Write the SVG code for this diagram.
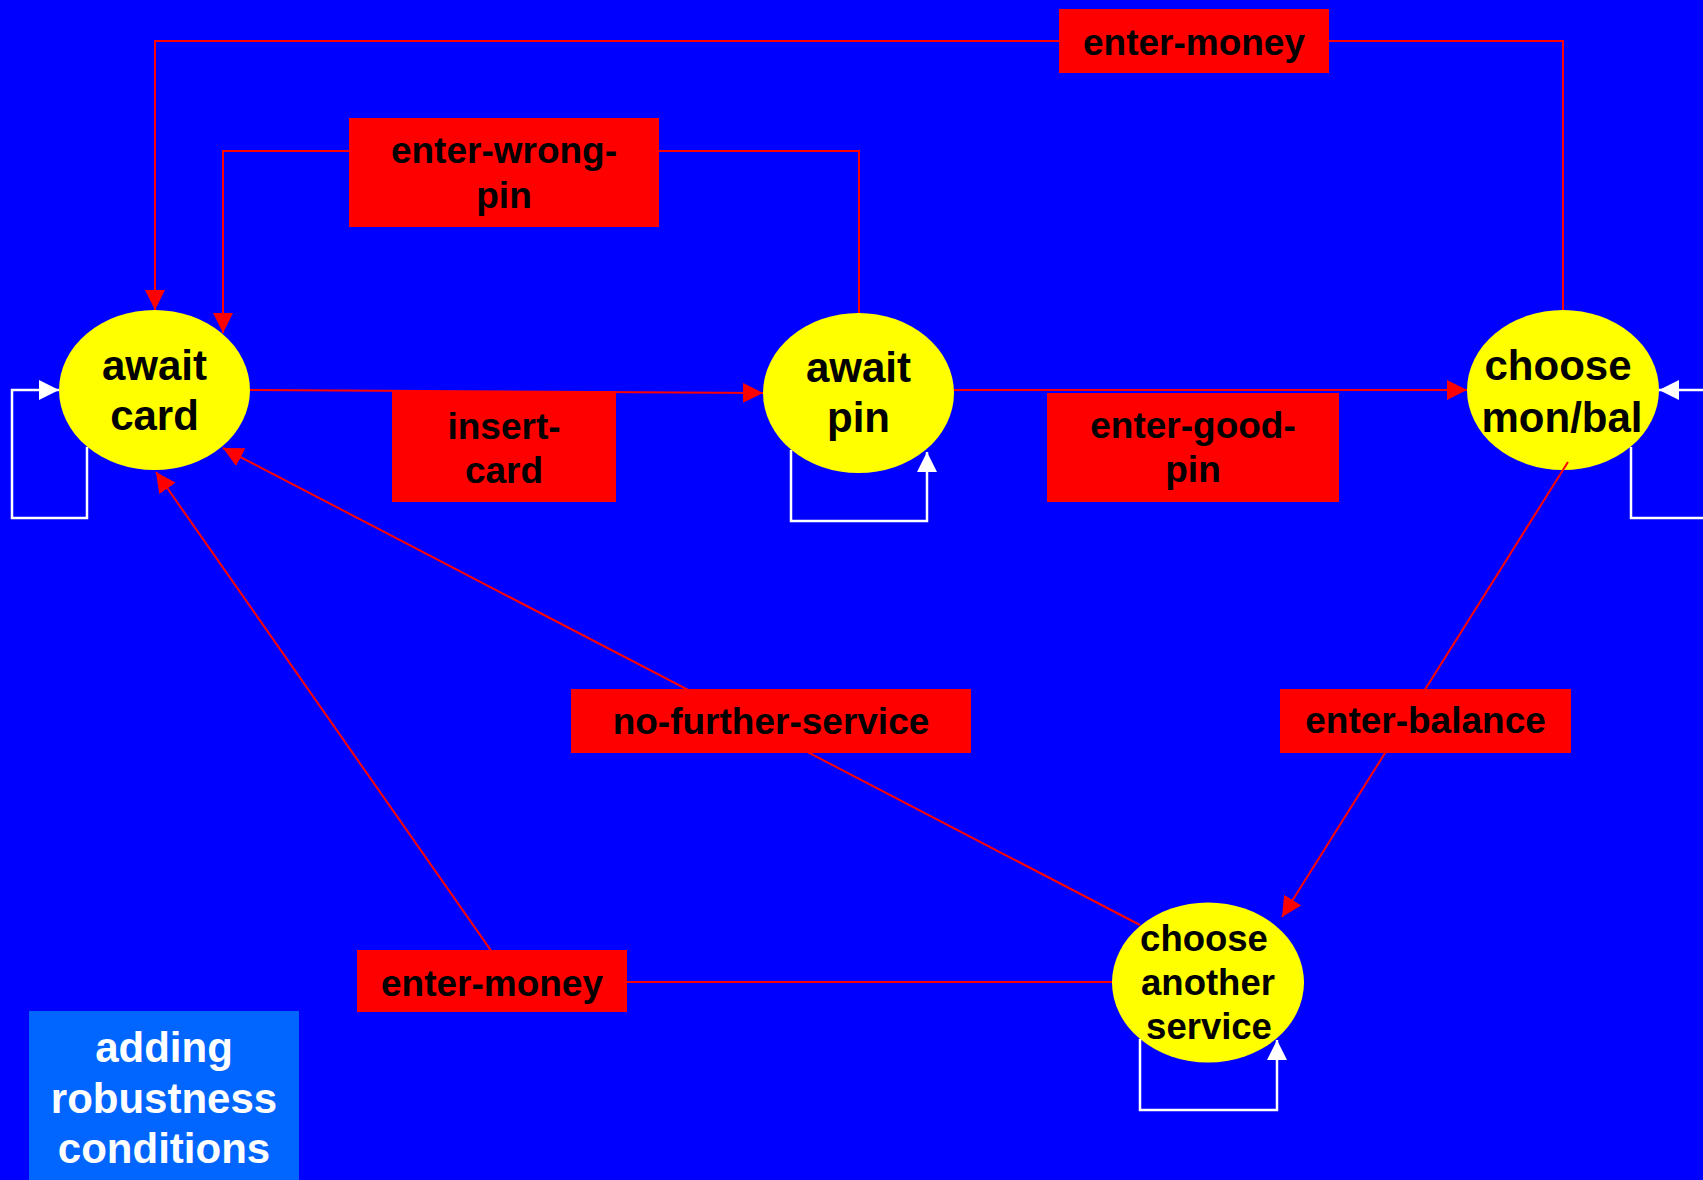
<svg xmlns="http://www.w3.org/2000/svg" width="1703" height="1180" viewBox="0 0 1703 1180">
<style>
.edge{fill:none;stroke:#FF0000;stroke-width:2}
.loop{fill:none;stroke:#FFFFFF;stroke-width:2.5}
.node{fill:#FFFF00}
.lbl{fill:#FF0000}
.t{font-family:"Liberation Sans",Arial,sans-serif;font-weight:bold;text-anchor:middle;fill:#000}
.nt{font-size:42px}
.lt{font-size:37px}
.st{font-size:36.5px}
.leg{font-family:"Liberation Sans",Arial,sans-serif;font-weight:bold;text-anchor:middle;fill:#FFFFFF;font-size:42px}
</style>
<defs>
<marker id="ar" viewBox="0 0 20 20" refX="20" refY="10" markerWidth="20" markerHeight="20" markerUnits="userSpaceOnUse" orient="auto"><path d="M0,0 L20,10 L0,20 z" fill="#FF0000"/></marker>
<marker id="aw" viewBox="0 0 20 20" refX="20" refY="10" markerWidth="20" markerHeight="20" markerUnits="userSpaceOnUse" orient="auto"><path d="M0,0 L20,10 L0,20 z" fill="#FFFFFF"/></marker>
</defs>
<rect x="0" y="0" width="1703" height="1180" fill="#0000FF"/>
<g id="node-await-card"><ellipse class="node" cx="154.5" cy="390" rx="95.5" ry="80"/><text class="t nt" x="154.5" y="380">await</text><text class="t nt" x="154.5" y="430">card</text></g>
<g id="node-await-pin"><ellipse class="node" cx="858.5" cy="393" rx="95.5" ry="80"/><text class="t nt" x="858.5" y="382">await</text><text class="t nt" x="858.5" y="432">pin</text></g>
<g id="node-choose-mon-bal"><ellipse class="node" cx="1563" cy="390" rx="96" ry="80"/><text class="t nt" x="1558" y="380">choose</text><text class="t nt" x="1562" y="432">mon/bal</text></g>
<g id="node-choose-another-service"><ellipse class="node" cx="1208" cy="982.5" rx="96" ry="80"/><text class="t st" x="1204" y="951">choose</text><text class="t st" x="1208" y="995">another</text><text class="t st" x="1209" y="1039">service</text></g>
<g id="connectors">
<polyline class="edge" points="1563,310 1563,41 155,41 155,310" marker-end="url(#ar)"/>
<polyline class="edge" points="859,313 859,151 223,151 223,333" marker-end="url(#ar)"/>
<line class="edge" x1="250" y1="390" x2="763" y2="393" marker-end="url(#ar)"/>
<line class="edge" x1="954" y1="390" x2="1467" y2="390" marker-end="url(#ar)"/>
<line class="edge" x1="1140" y1="925" x2="223" y2="448" marker-end="url(#ar)"/>
<line class="edge" x1="1568" y1="462" x2="1282" y2="917" marker-end="url(#ar)"/>
<polyline class="edge" points="1112,982 513,982 156,472" marker-end="url(#ar)"/>
<polyline class="loop" points="87,447 87,518 12,518 12,390 59,390" marker-end="url(#aw)"/>
<polyline class="loop" points="791,450 791,521 927,521 927,452" marker-end="url(#aw)"/>
<polyline class="loop" points="1631,447 1631,518 1710,518"/>
<line class="loop" x1="1710" y1="390" x2="1659" y2="390" marker-end="url(#aw)"/>
<polyline class="loop" points="1140,1039 1140,1110 1277,1110 1277,1040" marker-end="url(#aw)"/>
</g>
<g id="label-enter-money-top"><rect class="lbl" x="1059" y="9" width="270" height="64"/><text class="t lt" x="1194" y="55">enter-money</text></g>
<g id="label-enter-wrong-pin"><rect class="lbl" x="349" y="118" width="310" height="109"/><text class="t lt" x="504" y="163">enter-wrong-</text><text class="t lt" x="504" y="208">pin</text></g>
<g id="label-insert-card"><rect class="lbl" x="392" y="391" width="224" height="111"/><text class="t lt" x="504" y="439">insert-</text><text class="t lt" x="504" y="483">card</text></g>
<g id="label-enter-good-pin"><rect class="lbl" x="1047" y="393" width="292" height="109"/><text class="t lt" x="1193" y="438">enter-good-</text><text class="t lt" x="1193" y="482">pin</text></g>
<g id="label-no-further-service"><rect class="lbl" x="571" y="689" width="400" height="64"/><text class="t lt" x="771" y="734">no-further-service</text></g>
<g id="label-enter-balance"><rect class="lbl" x="1280" y="689" width="291" height="64"/><text class="t lt" x="1425.5" y="733">enter-balance</text></g>
<g id="label-enter-money-bottom"><rect class="lbl" x="357" y="950" width="270" height="62"/><text class="t lt" x="492" y="996">enter-money</text></g>
<g id="legend"><rect x="29" y="1011" width="270" height="175" fill="#0066FF"/><text class="leg" x="164" y="1062">adding</text><text class="leg" x="164" y="1113">robustness</text><text class="leg" x="164" y="1163">conditions</text></g>
</svg>
